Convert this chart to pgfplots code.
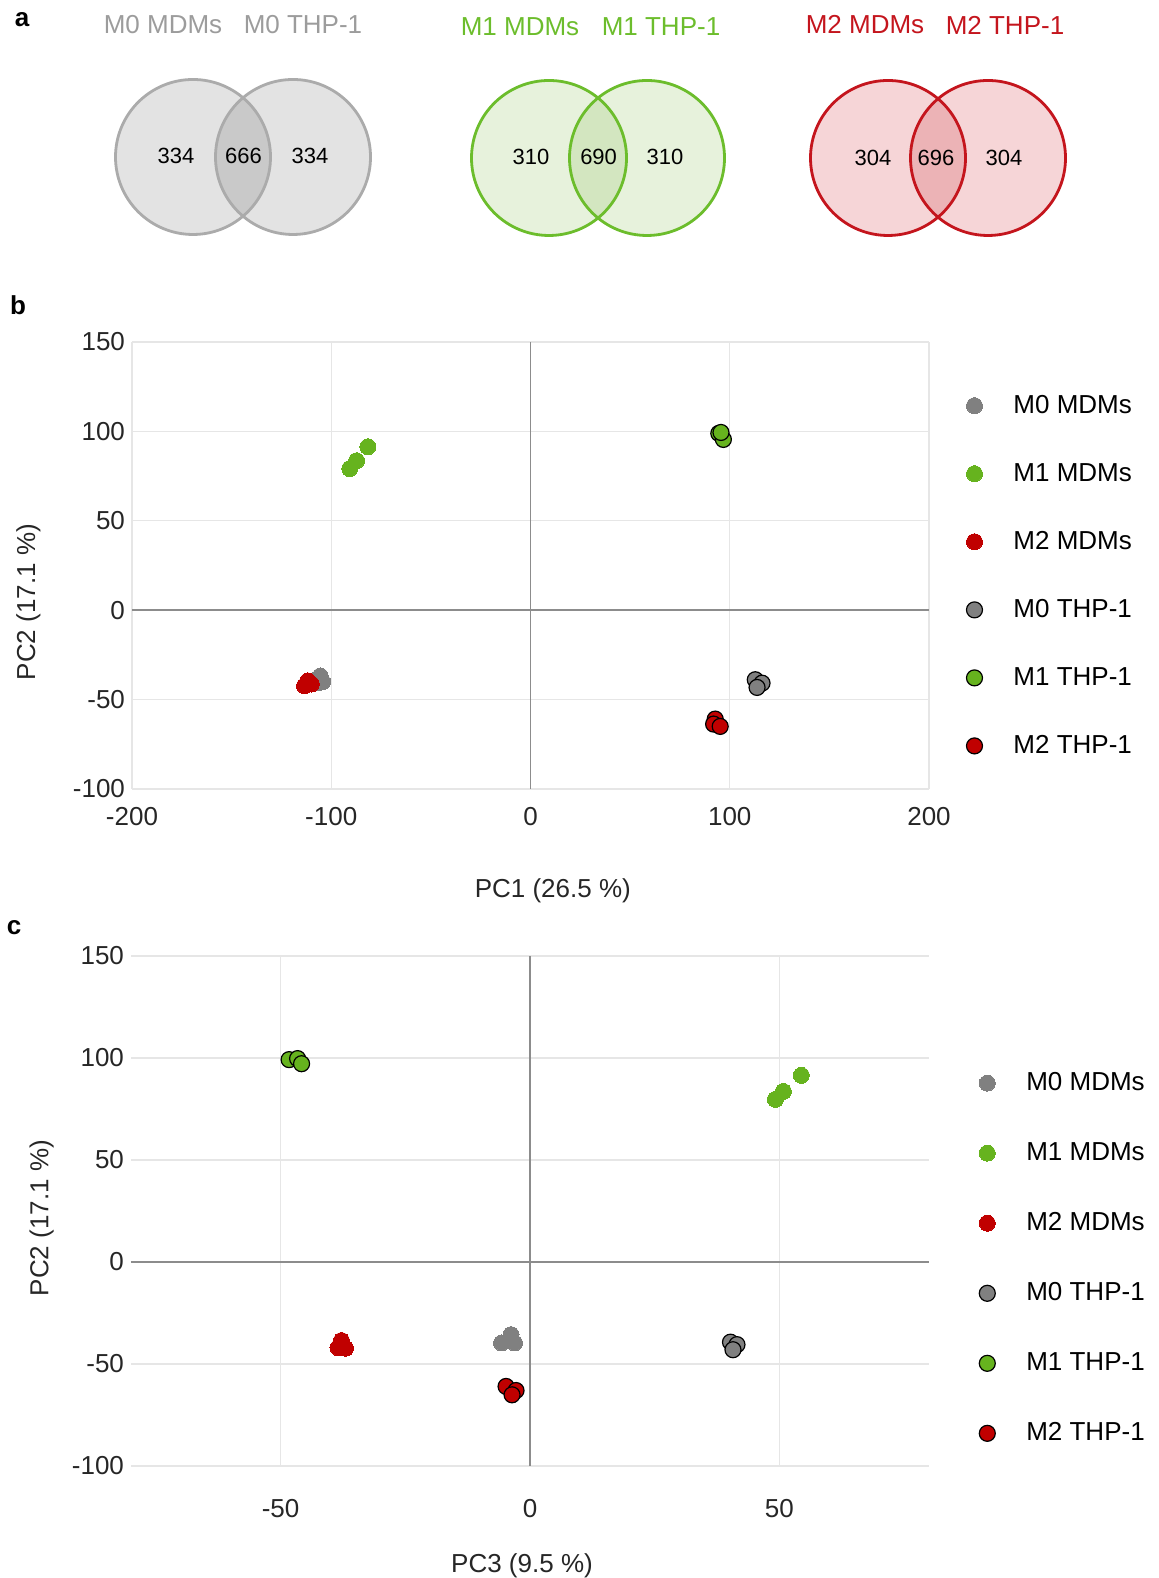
\documentclass[border=0pt]{standalone}
\usepackage{pgfplots}
\pgfplotsset{compat=1.18}
\usepackage{fontspec}
\setmainfont{Liberation Sans}
\definecolor{mgray}{HTML}{808080}
\definecolor{mgreen}{HTML}{66B31E}
\definecolor{mred}{HTML}{C00000}
\definecolor{vgrayl}{HTML}{ABABAB}
\definecolor{vgrayf}{HTML}{E3E3E3}
\definecolor{vgrayo}{HTML}{C9C9C9}
\definecolor{vgreenl}{HTML}{6CBD2C}
\definecolor{vgreenf}{HTML}{E7F2DC}
\definecolor{vgreeno}{HTML}{D3E6C0}
\definecolor{vredl}{HTML}{C4151D}
\definecolor{vredf}{HTML}{F6D5D7}
\definecolor{vredo}{HTML}{ECB3B6}
\definecolor{gridc}{HTML}{E6E6E6}
\definecolor{zeroc}{HTML}{8C8C8C}
\definecolor{vtitlegray}{HTML}{9C9C9C}
\newcommand\fs{\fontsize{13}{15.6}\selectfont}
\newcommand\fsn{\fontsize{11}{13}\selectfont}
\pgfplotsset{
  pca/.style={
    scale only axis, anchor=south west,
    axis line style={draw=none},
    major tick length=0pt,
    grid=major, grid style={draw=gridc, line width=0.7pt},
    extra x ticks={0}, extra y ticks={0},
    extra tick style={grid style={draw=zeroc, line width=0.9pt}},
    tick label style={font=\fs, text=black!85},
    /pgf/number format/assume math mode=true,
    label style={font=\fs, text=black!85},
    legend cell align=left,
    legend style={draw=none, fill=none, font=\fs, row sep=19.5pt,
      /tikz/every odd column/.append style={column sep=13.5pt}},
    clip=false,
  },
  mdm/.style={only marks, mark=*, mark size=4pt, mark options={draw=#1, line width=0pt, fill=#1}},
  thp/.style={only marks, mark=*, mark size=4pt, mark options={draw=black, line width=0.6pt, fill=#1}},
}
\newcommand\venn[6]{%
  \fill[#4] (axis cs:#1,-#3) circle[radius=38.75pt];
  \fill[#4] (axis cs:#2,-#3) circle[radius=38.75pt];
  \begin{scope}
    \clip (axis cs:#1,-#3) circle[radius=38.75pt];
    \fill[#5] (axis cs:#2,-#3) circle[radius=38.75pt];
  \end{scope}
  \draw[#6, line width=1.4pt] (axis cs:#1,-#3) circle[radius=38.75pt];
  \draw[#6, line width=1.4pt] (axis cs:#2,-#3) circle[radius=38.75pt];
}
\begin{document}
\begin{tikzpicture}
\useasboundingbox (0,0) rectangle (579.5pt,789pt);
% ---------- panel a ----------
\begin{axis}[at={(0pt,789pt)}, anchor=north west, scale only axis,
  width=579.5pt, height=125pt, xmin=0, xmax=1159, ymin=-250, ymax=0,
  hide axis, clip=false]
\venn{193}{293}{157}{vgrayf}{vgrayo}{vgrayl}
\venn{549}{647}{158}{vgreenf}{vgreeno}{vgreenl}
\venn{888}{988}{158}{vredf}{vredo}{vredl}
\node[font=\fs, text=vtitlegray] at (axis cs:163,-25) {M0 MDMs};
\node[font=\fs, text=vtitlegray] at (axis cs:303,-25) {M0 THP-1};
\node[font=\fs, text=vgreenl] at (axis cs:520,-27) {M1 MDMs};
\node[font=\fs, text=vgreenl] at (axis cs:661,-27) {M1 THP-1};
\node[font=\fs, text=vredl] at (axis cs:865,-25) {M2 MDMs};
\node[font=\fs, text=vredl] at (axis cs:1005,-25) {M2 THP-1};
\node[font=\fsn] at (axis cs:176,-156) {334};
\node[font=\fsn] at (axis cs:243.5,-156) {666};
\node[font=\fsn] at (axis cs:310,-156) {334};
\node[font=\fsn] at (axis cs:531,-157) {310};
\node[font=\fsn] at (axis cs:598.6,-157) {690};
\node[font=\fsn] at (axis cs:665,-157) {310};
\node[font=\fsn] at (axis cs:873,-158) {304};
\node[font=\fsn] at (axis cs:936,-158) {696};
\node[font=\fsn] at (axis cs:1004,-158) {304};
\end{axis}
% ---------- panel b ----------
\begin{axis}[pca, at={(66pt,394.5pt)}, width=398.5pt, height=223.5pt,
  xmin=-200, xmax=200, ymin=-100, ymax=150,
  xtick={-200,-100,100,200}, ytick={-100,-50,50,100,150},
  xticklabel style={yshift=-5.5pt},
  xlabel={PC1 (26.5 \%)}, ylabel={PC2 (17.1 \%)},
  xlabel style={at={(axis description cs:0.528,-0.228)}, anchor=center},
  ylabel style={at={(axis description cs:-0.13,0.418)}, anchor=center},
  legend style={at={(axis description cs:1.039,0.900)}, anchor=north west}]
\addplot[mdm=mgray] coordinates {(-105.5,-36.8) (-104.3,-40) (-106.5,-40.5)};
\addlegendentry{M0 MDMs}
\addplot[mdm=mgreen] coordinates {(-81.6,91.4) (-87.3,83.6) (-90.7,79.2)};
\addlegendentry{M1 MDMs}
\addplot[mdm=mred] coordinates {(-113.4,-42.3) (-111.7,-39.5) (-110,-41.3)};
\addlegendentry{M2 MDMs}
\addplot[thp=mgray] coordinates {(112.8,-38.9) (116.2,-40.8) (113.7,-43.2)};
\addlegendentry{M0 THP-1}
\addplot[thp=mgreen] coordinates {(94.5,98.9) (96.8,95.5) (95.6,99.4)};
\addlegendentry{M1 THP-1}
\addplot[thp=mred] coordinates {(92.7,-60.9) (91.9,-63.7) (95.2,-65)};
\addlegendentry{M2 THP-1}
\end{axis}
% ---------- panel c ----------
\begin{axis}[pca, at={(65.5pt,56pt)}, width=399pt, height=255pt,
  xmin=-80, xmax=80, ymin=-100, ymax=150,
  xtick={-50,50}, ytick={-100,-50,50,100,150},
  xticklabel style={yshift=-13pt},
  xlabel={PC3 (9.5 \%)}, ylabel={PC2 (17.1 \%)},
  xlabel style={at={(axis description cs:0.49,-0.196)}, anchor=center},
  ylabel style={at={(axis description cs:-0.112,0.486)}, anchor=center},
  legend style={at={(axis description cs:1.055,0.788)}, anchor=north west, row sep=20.5pt}]
\addplot[mdm=mgray] coordinates {(-3.8,-35.6) (-5.7,-39.7) (-3.1,-39.7)};
\addlegendentry{M0 MDMs}
\addplot[mdm=mgreen] coordinates {(54.4,91.5) (50.8,83.6) (49.2,79.7)};
\addlegendentry{M1 MDMs}
\addplot[mdm=mred] coordinates {(-37.8,-38.5) (-38.5,-42) (-37,-42.3)};
\addlegendentry{M2 MDMs}
\addplot[thp=mgray] coordinates {(40.2,-39.3) (41.5,-40.5) (40.7,-43)};
\addlegendentry{M0 THP-1}
\addplot[thp=mgreen] coordinates {(-48.3,99.2) (-46.6,99.7) (-45.8,97.2)};
\addlegendentry{M1 THP-1}
\addplot[thp=mred] coordinates {(-4.8,-61) (-2.8,-63) (-3.6,-65.1)};
\addlegendentry{M2 THP-1}
\end{axis}
% panel letters
\node[font=\fs\bfseries] at (11pt,779pt) {a};
\node[font=\fs\bfseries] at (9pt,636.5pt) {b};
\node[font=\fs\bfseries] at (7pt,325pt) {c};
\end{tikzpicture}
\end{document}
